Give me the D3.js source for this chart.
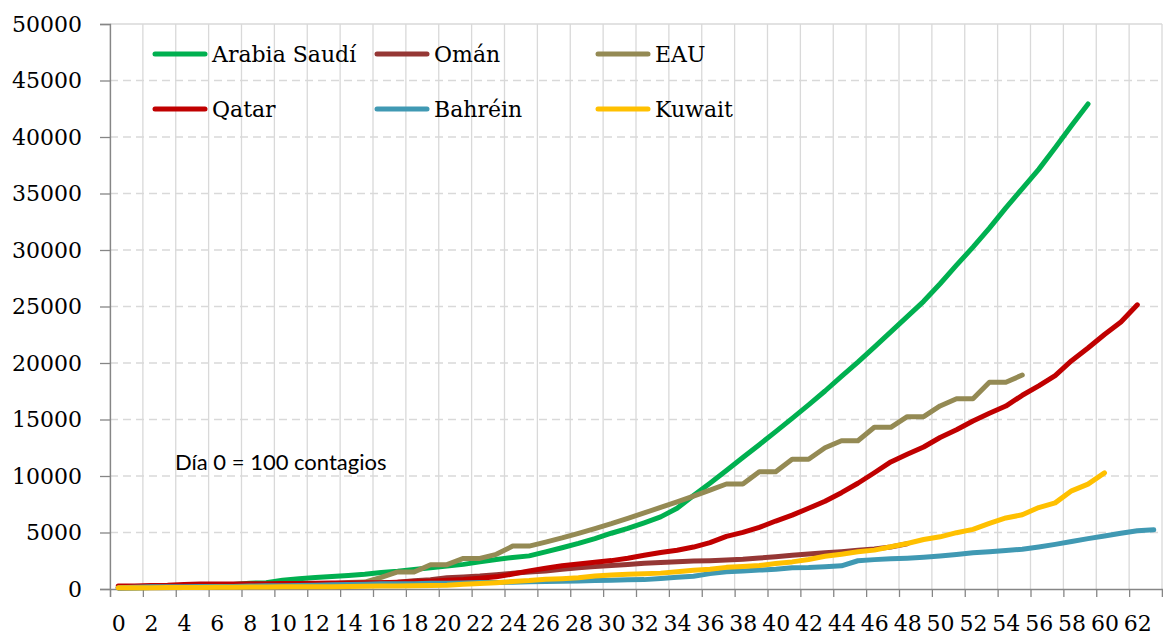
<!DOCTYPE html>
<html>
<head>
<meta charset="utf-8">
<script src="https://cdn.jsdelivr.net/npm/d3@7"></script>
<style>
  html, body { margin: 0; padding: 0; background: #fff; }
  svg { display: block; }
</style>
</head>
<body>
<svg id="chart" width="1163" height="635"></svg>
<script>
// ---- Data (cases since day 0 = 100 contagios) ----
const seriesNames = ["Arabia Saudí", "Omán", "EAU", "Qatar", "Bahréin", "Kuwait"];
const seriesColors = ["#00B050", "#953735", "#948A54", "#C00000", "#4099B3", "#FFC000"];

const saudiArabia = [103,118,133,171,238,274,344,392,511,562,767,900,1012,1104,1203,1299,1453,1563,1720,1885,
  2039,2179,2402,2605,2795,2932,3287,3651,4033,4462,4934,5369,5862,6380,7142,8274,9362,10484,11631,12772,
  13930,15102,16299,17522,18811,20077,21402,22753,24097,25459,27011,28656,30251,31938,33731,35432,37136,39048,41014,42925];
const oman = [109,131,152,167,179,192,210,231,252,277,298,331,371,419,457,484,546,599,727,813,
  1000,1070,1150,1270,1390,1500,1600,1750,1890,1980,2070,2170,2270,2350,2420,2470,2510,2570,2630,2740,
  2860,2990,3100,3200,3300,3420,3540,3720,4000];
const uae = [98,98,113,113,140,140,153,198,198,248,333,405,468,468,570,611,1024,1505,1505,2150,
  2150,2710,2710,3070,3800,3800,4150,4520,4930,5350,5780,6250,6730,7220,7720,8220,8750,9290,9290,10380,
  10380,11480,11480,12500,13120,13120,14310,14310,15250,15250,16200,16840,16840,18290,18290,18940];
const qatar = [262,262,320,337,401,439,442,452,460,470,481,494,501,526,537,549,562,590,634,693,
  781,835,949,1075,1325,1604,1832,2057,2210,2376,2512,2728,2979,3231,3428,3711,4103,4663,5008,5448,
  6015,6533,7141,7764,8525,9358,10287,11244,11921,12564,13409,14096,14872,15551,16191,17142,17972,18890,20201,21331,
  22520,23623,25149];
const bahrain = [110,150,189,195,210,214,221,228,256,278,298,305,334,377,392,419,458,466,473,499,
  515,540,567,569,600,640,672,688,700,756,780,811,830,925,1040,1136,1361,1528,1600,1671,
  1740,1881,1907,1973,2050,2500,2600,2680,2730,2810,2920,3060,3200,3300,3400,3520,3720,3950,4200,4460,
  4690,4940,5160,5236];
const kuwait = [100,104,112,123,130,142,148,159,176,188,189,191,195,208,225,235,255,266,289,317,
  342,417,479,556,665,743,855,910,993,1154,1234,1300,1355,1405,1524,1658,1751,1915,1995,2080,
  2248,2399,2614,2892,3075,3288,3440,3740,4024,4377,4619,4983,5278,5804,6289,6567,7208,7623,8688,9286,
  10277];

const seriesValues = [saudiArabia, oman, uae, qatar, bahrain, kuwait];
const days = d3.range(0, 64);                       // categories 0..63
const xTickLabels = d3.range(0, 64, 2);             // 0,2,...,62
const yTicks = d3.range(0, 50001, 5000);            // 0..50000
const annotation = "Día 0 = 100 contagios";

// ---- Layout ----
const svg = d3.select("#chart");
const plotLeft = 110, plotRight = 1162, plotTop = 24, plotBottom = 589;

const xBound = d3.scaleLinear().domain([0, days.length]).range([plotLeft, plotRight]);
const x = d3.scalePoint().domain(days).range([plotLeft, plotRight]).padding(0.5);
const y = d3.scaleLinear().domain([0, 50000]).range([plotBottom, plotTop]);

const serif = "'DejaVu Serif', serif";
const gridColor = "#D9D9D9";
const axisColor = "#868686";

// vertical gridlines (category boundaries every 2 days)
const bounds = d3.range(0, days.length + 1, 2);
svg.append("g").selectAll("line").data(bounds).join("line")
  .attr("x1", d => xBound(d)).attr("x2", d => xBound(d))
  .attr("y1", plotTop).attr("y2", plotBottom)
  .attr("stroke", gridColor).attr("stroke-width", 1.3);

// horizontal gridlines
svg.append("g").selectAll("line").data(yTicks.filter(v => v > 0)).join("line")
  .attr("x1", plotLeft).attr("x2", plotRight)
  .attr("y1", d => y(d)).attr("y2", d => y(d))
  .attr("stroke", gridColor).attr("stroke-width", 1.3)
  .attr("stroke-dasharray", d => d === 50000 ? null : "8,5");

// y axis
const yAxis = svg.append("g").attr("transform", `translate(${plotLeft},0)`)
  .call(d3.axisLeft(y).tickValues(yTicks).tickSize(10).tickPadding(18).tickFormat(d3.format("d")));
yAxis.select(".domain").attr("stroke", axisColor).attr("stroke-width", 1.3);
yAxis.selectAll(".tick line").attr("stroke", axisColor).attr("stroke-width", 1.3);
yAxis.selectAll("text").attr("font-family", serif).attr("font-size", 22).attr("fill", "#000");

// x axis tick marks at boundaries
const xTickAxis = svg.append("g").attr("transform", `translate(0,${plotBottom})`)
  .call(d3.axisBottom(xBound).tickValues(bounds).tickSize(8).tickFormat(""));
xTickAxis.select(".domain").attr("stroke", axisColor).attr("stroke-width", 1.3);
xTickAxis.selectAll(".tick line").attr("stroke", axisColor).attr("stroke-width", 1.3);

// x axis labels at category centres
const xLabelAxis = svg.append("g").attr("transform", `translate(0,${plotBottom})`)
  .call(d3.axisBottom(x).tickValues(xTickLabels).tickSize(0).tickPadding(26));
xLabelAxis.select(".domain").remove();
xLabelAxis.selectAll("text").attr("font-family", serif).attr("font-size", 22).attr("fill", "#000");

// lines
const line = d3.line().x((d, i) => x(i)).y(d => y(d));
svg.append("g").selectAll("path").data(seriesValues).join("path")
  .attr("d", d => line(d))
  .attr("fill", "none")
  .attr("stroke", (d, i) => seriesColors[i])
  .attr("stroke-width", 5)
  .attr("stroke-linejoin", "round")
  .attr("stroke-linecap", "round");

// legend
const legendCols = [153, 375, 596];
const legendRows = [54, 109];
const legend = svg.append("g").selectAll("g").data(seriesNames).join("g")
  .attr("transform", (d, i) => `translate(${legendCols[i % 3]},${legendRows[Math.floor(i / 3)]})`);
legend.append("line")
  .attr("x1", 2).attr("x2", 52).attr("y1", 0).attr("y2", 0)
  .attr("stroke", (d, i) => seriesColors[i]).attr("stroke-width", 5).attr("stroke-linecap", "round");
legend.append("text")
  .attr("x", 59).attr("y", 8)
  .attr("font-family", serif).attr("font-size", 22).attr("fill", "#000")
  .text(d => d);

// annotation
svg.append("text")
  .attr("x", 175).attr("y", 470)
  .attr("font-family", "Lato, 'Open Sans', sans-serif").attr("font-size", 22).attr("fill", "#000")
  .text(annotation);
</script>
</body>
</html>
